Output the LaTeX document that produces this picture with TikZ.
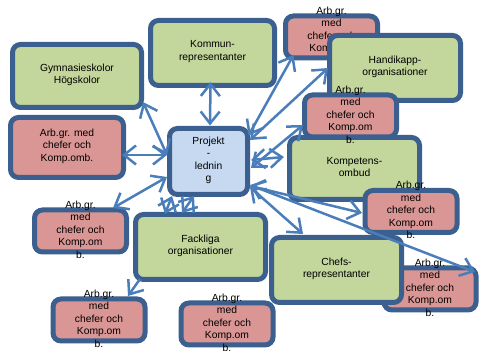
\documentclass[tikz,border=0pt]{standalone}
\usepackage{fontspec}
\setmainfont{Liberation Sans}
\usetikzlibrary{arrows.meta, calc}

\definecolor{bordo}{HTML}{3B5F8E}
\definecolor{verdino}{HTML}{C3D69B}
\definecolor{rosa}{HTML}{D99694}
\definecolor{celeste}{HTML}{C6D9F1}
\definecolor{blu}{HTML}{4A7EBB}

\newcommand{\righe}[1]{\makebox[0pt]{\raisebox{-2.5pt}{\smash{\parbox[c]{100pt}{\centering #1}}}}}

\begin{document}
\begin{tikzpicture}[x=1pt, y=-1pt, <->, >={Straight Barb[length=12pt,width=19pt]}, semithick]

%====Definizione stile blocchi================================================

	\tikzstyle{blocco}=[draw=bordo, line width=5pt, rounded corners=8pt, inner sep=0pt, font=\fontsize{10.3}{12.5}\selectfont]
	\tikzstyle{verde}=[blocco, fill=verdino]
	\tikzstyle{rosso}=[blocco, fill=rosa, minimum width=92pt, minimum height=42pt]
	\tikzstyle{centro}=[blocco, fill=celeste]
	\tikzstyle{freccia}=[draw=blu, line width=2.5pt]

	\useasboundingbox (0,0) rectangle (479,352);

%====Definizione blocchi e posizione===========================================

	\node[verde, minimum width=129pt, minimum height=63pt] (gym) at (77,76) {\righe{Gymnasieskolor\\Högskolor}};
	\node[rosso, minimum width=113pt, minimum height=60pt] (arbL) at (67,147.5) {\righe{Arb.gr. med\\chefer och\\Komp.omb.}};
	\node[verde, minimum width=124pt, minimum height=65pt] (kommun) at (212.5,53) {\righe{Kommun-\\representanter}};
	\node[rosso] (arbT) at (331.5,37) {\righe{Arb.gr.\\med\\chefer och\\Komp.om\\b.}};
	\node[verde, minimum width=131pt, minimum height=65pt] (handi) at (395,68) {\righe{Handikapp-\\organisationer}};
	\node[verde, minimum width=130pt, minimum height=62pt] (komp) at (354.5,168.5) {\righe{Kompetens-\\ombud}};
	\node[rosso] (arbM) at (350.5,116) {\righe{Arb.gr.\\med\\chefer och\\Komp.om\\b.}};
	\node[centro, minimum width=78pt, minimum height=66pt] (proj) at (208.5,161.5) {\righe{Projekt\\-\\lednin\\g}};
	\node[rosso] (arbLL) at (80.5,231) {\righe{Arb.gr.\\med\\chefer och\\Komp.om\\b.}};
	\node[verde, minimum width=130pt, minimum height=65pt] (fack) at (200.5,247) {\righe{Fackliga\\organisationer}};
	\node[rosso] (arbR1) at (411,211.5) {\righe{Arb.gr.\\med\\chefer och\\Komp.om\\b.}};
	\node[rosso] (arbR2) at (430,289) {\righe{Arb.gr.\\med\\chefer och\\Komp.om\\b.}};
	\node[verde, minimum width=130pt, minimum height=65pt] (chefs) at (336.5,270) {\righe{Chefs-\\representanter}};
	\node[rosso] (arbB1) at (99,320) {\righe{Arb.gr.\\med\\chefer och\\Komp.om\\b.}};
	\node[rosso] (arbB2) at (227,324) {\righe{Arb.gr.\\med\\chefer och\\Komp.om\\b.}};

%====Definizione collegamenti e stile frecce================================================================
	%from                        to
	\draw[freccia] ($(proj)+(-41.5,-6.5)$)  -- ($(gym)+(66,26)$);
	\draw[freccia] ($(proj)+(-41.5,-6.5)$)  -- ($(arbL)+(55,7.5)$);
	\draw[freccia] ($(proj)+(1.5,-36)$)     -- ($(kommun)+(-2,29)$);
	\draw[freccia] ($(proj)+(40,-26)$)      -- ($(arbT)+(-38,18)$);
	\draw[freccia] ($(proj)+(41.5,-21.5)$)  -- ($(handi)+(-67,0)$);
	\draw[freccia] ($(proj)+(42.5,6.5)$)    -- ($(arbM)+(-47.5,9)$);
	\draw[freccia] ($(proj)+(42.5,-1.5)$)   -- ($(komp)+(-70.5,-11.5)$);
	\draw[freccia] ($(proj)+(41.5,24.5)$)   -- ($(arbR1)+(-49,1.5)$);
	\draw[freccia] ($(proj)+(41.5,23.5)$)   -- ($(arbR2)+(45,-17)$);
	\draw[freccia] ($(proj)+(41.5,25.5)$)   -- ($(chefs)+(-33.5,-36)$);
	\draw[freccia] ($(proj)+(-41.5,15.5)$)  -- ($(arbLL)+(32.5,-23)$);
	\draw[freccia] ($(proj)+(-36.5,34.5)$)  -- ($(fack)+(-35.5,-33)$);
	\draw[freccia] ($(proj)+(-14.5,34.5)$)  -- ($(fack)+(-18.5,-34)$);
	\draw[freccia, ->] ($(fack)+(-60.5,32)$) -- ($(arbB1)+(29,-24)$);
\end{tikzpicture}
\end{document}
